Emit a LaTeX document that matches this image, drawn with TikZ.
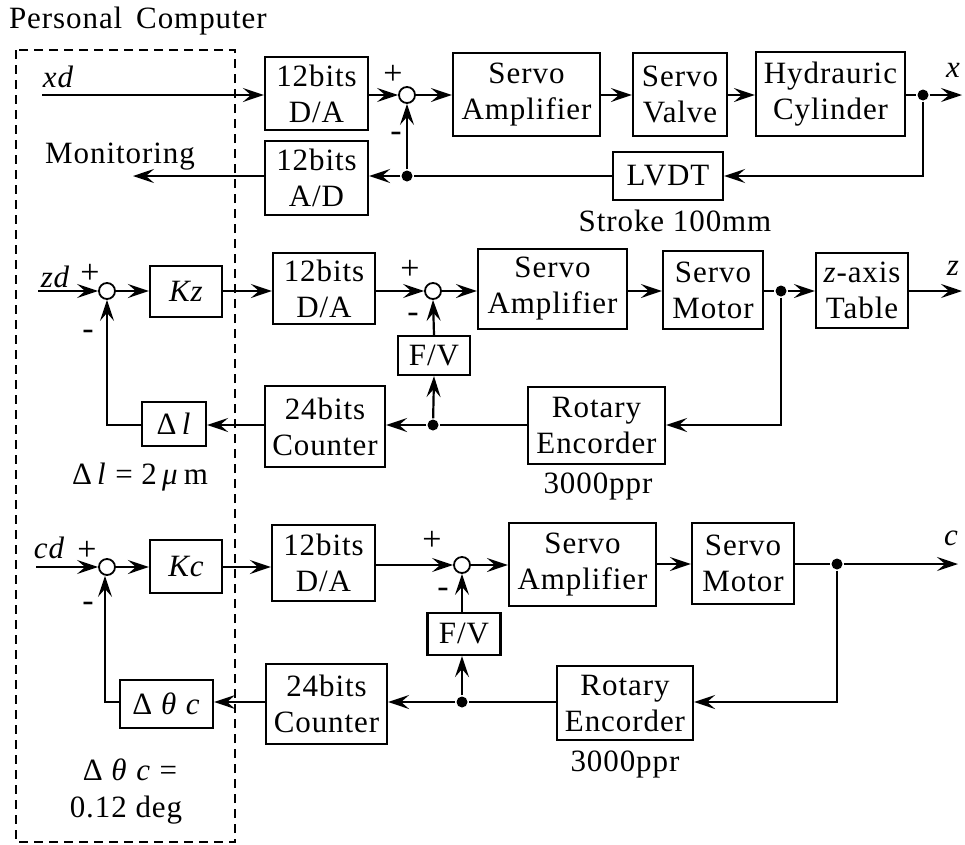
\documentclass[tikz,border=0pt]{standalone}
\usepackage{fontspec}
\setmainfont{Liberation Serif}[LetterSpace=3]
\usetikzlibrary{arrows.meta}
\begin{document}
\begin{tikzpicture}[x=1pt,y=-1pt,
  font=\fontsize{31}{36}\selectfont,
  line width=2.2pt,
  blk/.style={draw,line width=2.2pt,inner sep=0pt,align=center},
  sumj/.style={draw,circle,line width=1.8pt,minimum size=16pt,inner sep=0pt},
  dotj/.style={fill,circle,minimum size=11pt,inner sep=0pt},
  arr/.style={-{Stealth[length=21pt,width=14pt,inset=8pt]}},
  lbl/.style={inner sep=0pt},
  sgn/.style={inner sep=0pt,font=\fontsize{34}{36}\selectfont}]
\useasboundingbox (0,0) rectangle (965,844);
% Personal computer frame
\node[lbl,anchor=west] (pc) at (8,21) {Personal\, Computer};
\draw[dash pattern=on 9pt off 6pt,line width=1.8pt] (16,50) rectangle (235,842);

% ---------- Row 1 ----------
\coordinate (xin) at (42,95);
\node[lbl] (xdl) at (58,77) {\itshape xd};
\node[blk,minimum width=103,minimum height=73] (da1) at (316.5,93.5) {12bits\\D/A};
\node[sumj] (s1) at (407,95) {};
\node[sgn] (p1) at (393,75) {+};
\node[sgn] (m1) at (396,137) {-};
\node[blk,minimum width=147,minimum height=83] (sa1) at (526.5,94.5) {Servo\\Amplifier};
\node[blk,minimum width=94,minimum height=83] (sv1) at (680,94.5) {Servo\\Valve};
\node[blk,minimum width=149,minimum height=84] (hc1) at (830.5,94) {Hydrauric\\Cylinder};
\node[dotj] (d1) at (923,95) {};
\coordinate (xout) at (962,95);
\node[lbl] (xl) at (953,70) {\itshape x};
\node[blk,minimum width=110,minimum height=48] (lvdt) at (668,176) {LVDT};
\node[lbl] (stroke) at (675,221) {Stroke 100mm};
\node[blk,minimum width=103,minimum height=74] (ad) at (316.5,178) {12bits\\A/D};
\node[dotj] (f1) at (407,176) {};
\coordinate (mon) at (133,176);
\node[lbl] (monl) at (120,157) {Monitoring};
\coordinate (c1) at (923,176);

\draw[arr] (xin) -- (xin -| da1.west);
\draw[arr] (da1.east |- s1) -- (s1.west);
\draw[arr] (s1.east) -- (s1 -| sa1.west);
\draw[arr] (sa1.east |- s1) -- (s1 -| sv1.west);
\draw[arr] (sv1.east |- s1) -- (s1 -| hc1.west);
\draw (hc1.east |- d1) -- (d1);
\draw[arr] (d1) -- (xout);
\draw[arr] (d1) -- (c1) -- (lvdt.east |- c1);
\draw[arr] (lvdt.west |- c1) -- (f1) -- (ad.east |- f1);
\draw[arr] (f1) -- (s1.south);
\draw[arr] (ad.west |- f1) -- (mon);

% ---------- Row 2 ----------
\coordinate (zin) at (38,291);
\node[lbl] (zdl) at (55,277) {\itshape zd};
\node[sumj] (s2) at (107,291) {};
\node[sgn] (p2) at (90,274) {+};
\node[sgn] (m2) at (88,335) {-};
\node[blk,minimum width=72,minimum height=51] (kz) at (186,291.5) {\itshape Kz};
\node[blk,minimum width=102,minimum height=71] (da2) at (324,288.5) {12bits\\D/A};
\node[sumj] (s3) at (433,291) {};
\node[sgn] (p3) at (410,270) {+};
\node[sgn] (m3) at (413,318) {-};
\node[blk,minimum width=149,minimum height=80] (sa2) at (552.5,289) {Servo\\Amplifier};
\node[blk,minimum width=100,minimum height=78] (sm2) at (713,290) {Servo\\Motor};
\node[dotj] (d2) at (781,291) {};
\node[blk,minimum width=92,minimum height=75] (zt) at (862,290.5) {\textit{z}-axis\\Table};
\coordinate (zout) at (962,291);
\node[lbl] (zl) at (953,268) {\itshape z};
\coordinate (c2) at (781,425);
\node[blk,minimum width=137,minimum height=77] (re2) at (596.5,425.5) {Rotary\\Encorder};
\node[lbl] (ppr2) at (598,486) {3000ppr};
\node[dotj] (f2) at (433,425) {};
\node[blk,minimum width=72,minimum height=39] (fv2) at (434,355.5) {F/V};
\node[blk,minimum width=120,minimum height=81] (cnt2) at (325,426.5) {24bits\\Counter};
\node[blk,minimum width=64,minimum height=44] (dl) at (174,424) {Δ\,\textit{l}};
\coordinate (b2) at (107,425);
\node[lbl] (dll) at (140,477) {Δ\,\textit{l} = 2\,\textit{μ}\,m};

\draw[arr] (zin) -- (s2.west);
\draw[arr] (s2.east) -- (s2 -| kz.west);
\draw[arr] (kz.east |- s2) -- (s2 -| da2.west);
\draw[arr] (da2.east |- s3) -- (s3.west);
\draw[arr] (s3.east) -- (s3 -| sa2.west);
\draw[arr] (sa2.east |- s3) -- (s3 -| sm2.west);
\draw (sm2.east |- d2) -- (d2);
\draw[arr] (d2) -- (d2 -| zt.west);
\draw[arr] (zt.east |- d2) -- (zout);
\draw[arr] (d2) -- (c2) -- (re2.east |- c2);
\draw[arr] (re2.west |- c2) -- (f2) -- (cnt2.east |- f2);
\draw[arr] (f2) -- (fv2.south);
\draw[arr] (fv2.north) -- (s3.south);
\draw[arr] (cnt2.west |- f2) -- (dl.east |- f2);
\draw[arr] (dl.west |- b2) -- (b2) -- (s2.south);

% ---------- Row 3 ----------
\coordinate (cin) at (36,567);
\node[lbl] (cdl) at (49,548) {\itshape cd};
\node[sumj] (s4) at (107,567) {};
\node[sgn] (p4) at (87,551) {+};
\node[sgn] (m4) at (88,607) {-};
\node[blk,minimum width=72,minimum height=53] (kc) at (186,566.5) {\itshape Kc};
\node[blk,minimum width=103,minimum height=76] (da3) at (323.5,563) {12bits\\D/A};
\node[sumj] (s5) at (462,565) {};
\node[sgn] (p5) at (432,541) {+};
\node[sgn] (m5) at (443,593) {-};
\node[blk,minimum width=147,minimum height=83] (sa3) at (582.5,564.5) {Servo\\Amplifier};
\node[blk,minimum width=102,minimum height=81] (sm3) at (743,563.5) {Servo\\Motor};
\node[dotj] (d3) at (837,564) {};
\coordinate (cout) at (958,564);
\node[lbl] (cl) at (951,538) {\itshape c};
\coordinate (c3) at (837,702);
\node[blk,minimum width=136,minimum height=74] (re3) at (625,703) {Rotary\\Encorder};
\node[lbl] (ppr3) at (625,764) {3000ppr};
\node[dotj] (f3) at (462,702) {};
\node[blk,minimum width=73,minimum height=42] (fv3) at (464,634) {F/V};
\node[blk,minimum width=121,minimum height=80] (cnt3) at (326.5,704) {24bits\\Counter};
\node[blk,minimum width=93,minimum height=48] (dtc) at (166.5,704) {Δ \textit{θ} \textit{c}};
\coordinate (b3) at (105,702);
\node[lbl] (dtl1) at (130,770) {Δ\ \textit{θ} \textit{c} =};
\node[lbl] (dtl2) at (126,810) {0.12 deg};

\draw[arr] (cin) -- (s4.west);
\draw[arr] (s4.east) -- (s4 -| kc.west);
\draw[arr] (kc.east |- s4) -- (s4 -| da3.west);
\draw[arr] (da3.east |- s5) -- (s5.west);
\draw[arr] (s5.east) -- (s5 -| sa3.west);
\draw[arr] (sa3.east |- d3) -- (d3 -| sm3.west);
\draw (sm3.east |- d3) -- (d3);
\draw[arr] (d3) -- (cout);
\draw[arr] (d3) -- (c3) -- (re3.east |- c3);
\draw[arr] (re3.west |- c3) -- (f3) -- (cnt3.east |- f3);
\draw[arr] (f3) -- (f3 |- fv3.south);
\draw[arr] (f3 |- fv3.north) -- (s5.south);
\draw[arr] (cnt3.west |- f3) -- (dtc.east |- f3);
\draw[arr] (dtc.west |- b3) -- (b3) -- (b3 |- s4.south);
\end{tikzpicture}
\end{document}
